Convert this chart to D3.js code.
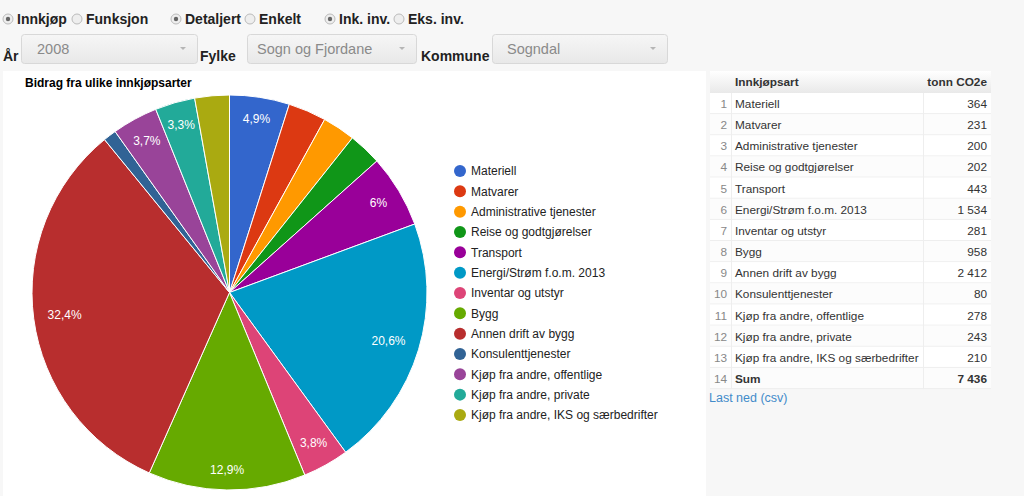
<!DOCTYPE html>
<html><head><meta charset="utf-8">
<script src="https://cdn.jsdelivr.net/npm/d3@7"></script>
<style>
html,body{margin:0;padding:0;background:#f7f7f7;}
svg{display:block;font-family:Arial,"Liberation Sans",sans-serif;}
</style></head>
<body>
<svg id="c" width="1024" height="496"></svg>
<script>
const categories = ["Materiell","Matvarer","Administrative tjenester","Reise og godtgjørelser","Transport","Energi/Strøm f.o.m. 2013","Inventar og utstyr","Bygg","Annen drift av bygg","Konsulenttjenester","Kjøp fra andre, offentlige","Kjøp fra andre, private","Kjøp fra andre, IKS og særbedrifter"];
const values = [364,231,200,202,443,1534,281,958,2412,80,278,243,210];
const colors = ["#3366cc","#dc3912","#ff9900","#109618","#990099","#0099c6","#dd4477","#66aa00","#b82e2e","#316395","#994499","#22aa99","#aaaa11"];
const title = "Bidrag fra ulike innkjøpsarter";
const tableHeader = ["Innkjøpsart","tonn CO2e"];
const sumLabel = "Sum";
const radioGroups = [["Innkjøp","Funksjon"],["Detaljert","Enkelt"],["Ink. inv.","Eks. inv."]];
const selectLabels = ["År","Fylke","Kommune"];
const selectValues = ["2008","Sogn og Fjordane","Sogndal"];

const svg = d3.select("#c");
const defs = svg.append("defs");
const g1 = defs.append("linearGradient").attr("id","selg").attr("x1",0).attr("y1",0).attr("x2",0).attr("y2",1);
g1.append("stop").attr("offset","0%").attr("stop-color","#f6f6f6");
g1.append("stop").attr("offset","100%").attr("stop-color","#e8e8e8");
const g2 = defs.append("linearGradient").attr("id","hdg").attr("x1",0).attr("y1",0).attr("x2",0).attr("y2",1);
g2.append("stop").attr("offset","0%").attr("stop-color","#ffffff");
g2.append("stop").attr("offset","100%").attr("stop-color","#e9e9e9");

// ---- controls ----
const radioX = [[8,77],[176,250],[330,399]];
radioGroups.forEach((grp,gi)=>{
  grp.forEach((lab,li)=>{
    const x = radioX[gi][li];
    svg.append("circle").attr("cx",x).attr("cy",19).attr("r",5)
      .attr("fill","#eee").attr("stroke","#bbb").attr("stroke-width",1);
    if(li===0) svg.append("circle").attr("cx",x).attr("cy",19).attr("r",2.2).attr("fill","#666");
    svg.append("text").attr("x",x+9).attr("y",24).attr("font-size",14).attr("font-weight","bold")
      .attr("fill","#222").text(lab);
  });
});
const selLabelX = [3,200,421];
const selBox = [[21,197],[247,416],[492,667]];
const selTextOff = [16,10,15];
selectLabels.forEach((lab,i)=>{
  svg.append("text").attr("x",selLabelX[i]).attr("y",61).attr("font-size",14).attr("font-weight","bold").attr("fill","#222").text(lab);
  const [a,b] = selBox[i];
  svg.append("rect").attr("x",a+0.5).attr("y",34.5).attr("width",b-a).attr("height",29).attr("rx",3)
    .attr("fill","url(#selg)").attr("stroke","#d8d8d8");
  svg.append("text").attr("x",a+selTextOff[i]).attr("y",54).attr("font-size",14.5).attr("fill","#8a8a8a").text(selectValues[i]);
  svg.append("path").attr("d",`M${b-17},47 l6,0 l-3,3 z`).attr("fill","#b5b5b5");
});

// ---- chart area ----
svg.append("rect").attr("x",3).attr("y",71).attr("width",703).attr("height",425).attr("fill","#fff");
svg.append("text").attr("x",25).attr("y",87).attr("font-size",12).attr("font-weight","bold").attr("fill","#000").text(title);

const cx = 229.5, cy = 292.5, R = 197.5;
const total = d3.sum(values);
const pie = d3.pie().sort(null).value(d=>d);
const arcs = pie(values);
const arc = d3.arc().innerRadius(0).outerRadius(R);
const pg = svg.append("g").attr("transform",`translate(${cx},${cy})`);
pg.selectAll("path").data(arcs).join("path")
  .attr("d",arc).attr("fill",(d,i)=>colors[i]).attr("stroke","#fff").attr("stroke-width",1);

const fmtPct = v => { let s = d3.format(".1f")(v*100); if(s.endsWith(".0")) s = s.slice(0,-2); return s.replace(".",",")+"%"; };
const K = 184, h = 11;
arcs.forEach((d,i)=>{
  const frac = d.value/total;
  if(frac < 0.032) return;
  const t = pg.append("text").attr("font-size",12).attr("fill","#fff").attr("text-anchor","middle").text(fmtPct(frac));
  const w = t.node().getComputedTextLength();
  const th = (d.startAngle+d.endAngle)/2;
  const s = Math.sin(th), c = -Math.cos(th);
  let lo=0, hi=K;
  for(let k=0;k<40;k++){
    const m=(lo+hi)/2;
    const dist = Math.hypot(Math.abs(m*s)+w/2, Math.abs(m*c)+h/2);
    if(dist>K) hi=m; else lo=m;
  }
  t.attr("x",lo*s).attr("y",lo*c+4.2);
});

// legend
const lg = svg.append("g");
categories.forEach((name,i)=>{
  const y = 171 + i*20.33;
  lg.append("circle").attr("cx",460).attr("cy",y).attr("r",6).attr("fill",colors[i]);
  lg.append("text").attr("x",471).attr("y",y+4.3).attr("font-size",12).attr("fill","#222").text(name);
});

// ---- table ----
const tx0=710, tx1=731, tx2=923, tx3=991;
const hTop=71, hH=22, rH=21.15, rTop=hTop+hH;
const fmtNum = v => d3.format(",")(v).replace(/,/g,"\u00a0");
const rows = categories.map((c,i)=>[c,values[i]]).concat([[sumLabel,total]]);
svg.append("rect").attr("x",tx0).attr("y",hTop).attr("width",tx3-tx0).attr("height",hH).attr("fill","url(#hdg)");
svg.append("text").attr("x",tx1+4).attr("y",hTop+15).attr("font-size",11.8).attr("font-weight","bold").attr("fill","#333").text(tableHeader[0]);
svg.append("text").attr("x",tx3-4).attr("y",hTop+15).attr("font-size",11.8).attr("font-weight","bold").attr("fill","#333").attr("text-anchor","end").text(tableHeader[1]);
rows.forEach((r,i)=>{
  const y = rTop + i*rH;
  svg.append("rect").attr("x",tx0).attr("y",y).attr("width",tx3-tx0).attr("height",rH).attr("fill",i%2? "#fcfcfc":"#fff");
  svg.append("line").attr("x1",tx0).attr("x2",tx3).attr("y1",y+rH-0.5).attr("y2",y+rH-0.5).attr("stroke","#eee");
  const bold = i===rows.length-1 ? "bold":"normal";
  svg.append("text").attr("x",tx1-4).attr("y",y+15).attr("font-size",11.8).attr("fill","#888").attr("text-anchor","end").text(i+1);
  svg.append("text").attr("x",tx1+4).attr("y",y+15).attr("font-size",11.8).attr("font-weight",bold).attr("fill","#333").text(r[0]);
  svg.append("text").attr("x",tx3-4).attr("y",y+15).attr("font-size",11.8).attr("font-weight",bold).attr("fill","#333").attr("text-anchor","end").text(fmtNum(r[1]));
});
[tx1,tx2].forEach(x=>svg.append("line").attr("x1",x+0.5).attr("x2",x+0.5).attr("y1",rTop).attr("y2",rTop+rows.length*rH).attr("stroke","#eee"));
svg.append("text").attr("x",709).attr("y",402).attr("font-size",12.5).attr("fill","#428bca").text("Last ned (csv)");
</script>
</body></html>
